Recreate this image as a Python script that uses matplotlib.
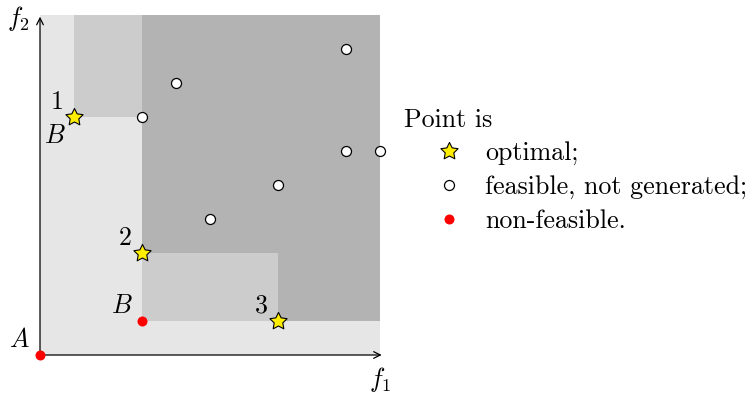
import matplotlib
matplotlib.use("Agg")
import matplotlib.pyplot as plt
from matplotlib.patches import Rectangle
from matplotlib.path import Path
import numpy as np

plt.rcParams['font.family'] = ['cmr10', 'DejaVu Serif']
plt.rcParams['mathtext.fontset'] = 'cm'
plt.rcParams['axes.unicode_minus'] = False

# ---- data ----
space = (0, 10)                       # objective space bounds
lower_bounds_x = [1, 3]               # B points (medium-gray dominated regions)
lower_bounds_y = [7, 1]
optimal_x = [1, 3, 7]
optimal_y = [7, 3, 1]
optimal_labels = ['1', '2', '3']
feasible_x = [3, 4, 9, 9, 10, 7, 5]
feasible_y = [7, 8, 9, 6, 6, 5, 4]
nonfeasible_x = [0, 3]
nonfeasible_y = [0, 1]
legend_labels = ['optimal;', 'feasible, not generated;', 'non-feasible.']

# star marker (fatter than default)
ang = np.pi / 2 + np.arange(10) * np.pi / 5
rad = np.where(np.arange(10) % 2 == 0, 1.0, 0.5)
verts = np.c_[rad * np.cos(ang), rad * np.sin(ang)]
verts = np.vstack([verts, verts[:1]])
star = Path(verts, [Path.MOVETO] + [Path.LINETO] * 9 + [Path.CLOSEPOLY])

FS = 18.7
fig = plt.figure(figsize=(7.53, 3.94), dpi=100)
ax = fig.add_axes([0, 0, 1, 1])
ax.set_xlim(-40 / 34, 713 / 34)
ax.set_ylim(-39 / 34, 355 / 34)
ax.axis('off')

lo, hi = space
ax.add_patch(Rectangle((lo, lo), hi - lo, hi - lo, color='#e6e6e6', lw=0, zorder=0))
for x, y in zip(lower_bounds_x, lower_bounds_y):
    ax.add_patch(Rectangle((x, y), hi - x, hi - y, color='#cccccc', lw=0, zorder=1))
for x, y in zip(optimal_x[1:], optimal_y[1:]):
    ax.add_patch(Rectangle((x, y), hi - x, hi - y, color='#b3b3b3', lw=0, zorder=2))

# axes arrows
ax.annotate('', xy=(hi + 0.05, 0), xytext=(0, 0),
            arrowprops=dict(arrowstyle='->', lw=0.9, color='black', shrinkA=0, shrinkB=0,
                            mutation_scale=12), zorder=3)
ax.annotate('', xy=(0, hi - 0.05), xytext=(0, 0),
            arrowprops=dict(arrowstyle='->', lw=0.9, color='black', shrinkA=0, shrinkB=0,
                            mutation_scale=12), zorder=3)

ax.text(-0.97, 9.68, '$f_2$', fontsize=FS, ha='left', va='baseline')
ax.text(9.68, -0.94, '$f_1$', fontsize=FS, ha='left', va='baseline')

# points
ax.plot(feasible_x, feasible_y, 'o', ms=7.2, mfc='white', mec='black', mew=0.9, zorder=5,
        clip_on=False)
ax.plot(nonfeasible_x, nonfeasible_y, 'o', ms=7.2, mfc='#ff0000', mec='#ff0000', mew=0,
        zorder=5, clip_on=False)
ax.plot(optimal_x, optimal_y, ls='none', marker=star, ms=13, mfc='#ffee00', mec='black',
        mew=0.8, zorder=6)

for x, y, lab in zip(optimal_x, optimal_y, optimal_labels):
    ax.text(x - 0.29, y + 0.24, lab, fontsize=FS, ha='right', va='baseline')

ax.text(nonfeasible_x[0] - 0.29, nonfeasible_y[0] + 0.24, '$A$', fontsize=FS, ha='right',
        va='baseline')
ax.text(nonfeasible_x[1] - 0.29, nonfeasible_y[1] + 0.24, '$B$', fontsize=FS, ha='right',
        va='baseline')
ax.text(lower_bounds_x[0] - 0.26, lower_bounds_y[0] - 0.76, '$B$', fontsize=FS, ha='right',
        va='baseline')

# legend
ax.text(10.71, 6.71, 'Point is', fontsize=FS, ha='left', va='baseline')
lx = 12.03
ax.plot([lx], [6], ls='none', marker=star, ms=13, mfc='#ffee00', mec='black', mew=0.8)
ax.plot([lx], [5], 'o', ms=7.2, mfc='white', mec='black', mew=0.9)
ax.plot([lx], [4], 'o', ms=7.2, mfc='#ff0000', mec='#ff0000', mew=0)
for i, lab in enumerate(legend_labels):
    ax.text(13.09, 6 - i - 0.26, lab, fontsize=FS, ha='left', va='baseline')

fig.savefig('out.png', dpi=100)
